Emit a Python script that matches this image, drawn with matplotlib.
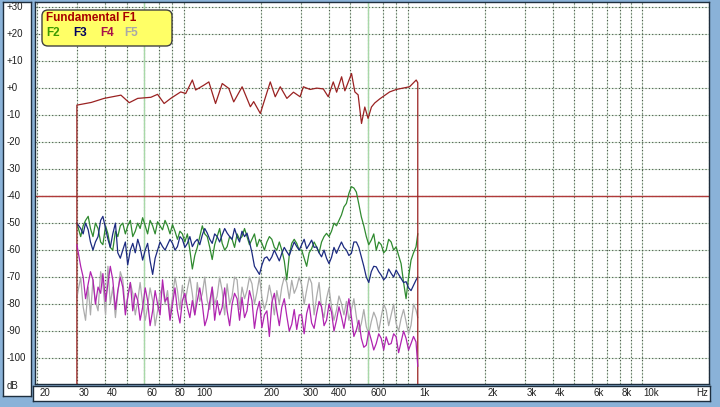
import matplotlib
matplotlib.use('Agg')
import matplotlib.pyplot as plt
import matplotlib.transforms as mtransforms
from matplotlib.patches import FancyBboxPatch
from matplotlib.ticker import NullLocator

plt.rcParams['font.family'] = ['Liberation Sans', 'DejaVu Sans']

# ---------------- data ----------------
f1_freq = [30, 30, 34.8, 39.7, 47.2, 51.4, 56.1, 64.2, 68.8, 73.6, 78.8, 87.3, 91.9, 98.4,
           101.8, 110.8, 116.6, 124.9, 133.8, 143.1, 150.6, 164.2, 178.7, 184.9, 198,
           219.3, 230.8, 243, 260.2, 278.4, 298, 308.3, 330.3, 353.7, 378.4, 398.2,
           419.2, 434, 456.9, 472.4, 506, 523.5, 541.5, 560.6, 579.9, 599.8, 621,
           642.4, 676, 749, 802, 858, 919, 984, 1000, 1000]
f1_db = [-110, -6.3, -5.3, -3.8, -2.6, -5.4, -3.8, -3.4, -2.3, -5.7, -3.8, -1.4, -2.0, 3.0,
         -0.7, 1.1, 2.3, -5.7, 1.7, -0.1, -5.1, 0.5, -6.9, -5.0, -9.4,
         2.3, -3.2, 0.5, -3.8, -1.5, -3.2, 0.5, -0.5, 0.0, -0.3, -3.2,
         2.3, -1.5, 4.2, -1.0, 5.4, -1.4, -2.5, -13.1, -7.0, -11.2, -7.0,
         -5.5, -4.0, -1.4, -0.5, 0.0, 0.5, 3.0, 2.0, -110]

# harmonic readings, main points
h_freq = [30, 32.0, 33.7, 35.4, 37.3, 39.2, 41.3, 43.4, 45.7, 48.1,
          50.6, 53.3, 56.1, 59.0, 62.1, 65.4, 68.8, 72.4, 76.2, 80.2,
          84.4, 88.8, 93.5, 98.4, 103.5, 109.0, 114.7, 120.7, 127.0, 133.7,
          140.7, 148.1, 155.9, 164.0, 172.6, 181.7, 191.2, 201.3, 211.8, 222.9,
          234.6, 246.9, 259.9, 273.5, 287.9, 303.0, 318.9, 335.6, 353.2, 371.7,
          391.2, 411.8, 433.4, 456.1, 480.0, 505.2, 531.7, 559.6, 589.0, 619.9,
          652.4, 686.6, 722.6, 760.5, 800.4, 842.4, 886.6, 933.1, 982.1, 1000]

f2_db = [-50, -51, -47.5, -55, -52, -58, -54, -60, -55, -50,
         -51, -55, -50, -48, -54, -51, -49.5, -52.5, -51, -50.5,
         -56, -54, -54, -67, -59, -51, -55, -63.5, -55, -57.5,
         -58.7, -56, -54, -55, -55, -56, -58.7, -57.5, -57, -56,
         -60, -60, -71, -57.5, -57.5, -60, -66, -59.5, -58.8, -57,
         -53.8, -53, -51, -47, -42.7, -36.5, -38.5, -47.7, -55, -56.3,
         -60, -58, -60, -57, -58.8, -65, -78, -63.7, -58.8, -54]

f3_db = [-50, -54, -52.5, -60, -55, -47.5, -56, -54, -61, -60,
         -65.5, -57.5, -56, -63.7, -57.5, -69, -60, -58.7, -58, -57.5,
         -58.7, -56, -57.5, -58.7, -56, -54.4, -53.7, -57.5, -55, -54.4,
         -53.7, -56, -55, -53, -53.7, -61, -67.5, -65.5, -62.5, -62.5,
         -62, -61.2, -60.6, -59.4, -58.7, -58, -59.5, -56.3, -58.8, -62.5,
         -63, -62.7, -61.2, -57, -60, -61.2, -57, -62.5, -70, -68,
         -66.2, -69.3, -70, -68.6, -67.4, -70.5, -71.7, -75, -71.1, -70]

f4_db = [-58, -70, -72.5, -71, -73.7, -68.7, -72.5, -71, -75, -73.7,
         -77.5, -82.5, -78.7, -81.2, -78.7, -82.5, -80, -71, -77.5, -80,
         -82.5, -78.7, -81.2, -78.7, -78.7, -80, -85, -73.7, -78.7, -81.2,
         -82.5, -80, -78, -77.5, -82.5, -78.7, -82.5, -88.7, -82.5, -79.4,
         -82.5, -81.2, -84.4, -87.5, -89.4, -84, -83.5, -87, -83.5, -81,
         -86, -83, -86, -84.7, -83.5, -84.7, -89.6, -92.7, -95.2, -93.3,
         -94.6, -92.7, -92.1, -94.6, -92.1, -94, -92.7, -94.6, -94, -103]

f5_db = [-77.5, -81, -73.7, -71, -82.5, -72.5, -66, -73.7, -76, -71,
         -77.5, -76, -78.7, -80, -81, -78.7, -82.5, -73.7, -75, -77.5,
         -75, -73, -74.4, -76.2, -72, -76.2, -78.7, -73.7, -77, -75,
         -72.5, -77, -71, -73.7, -75, -72.5, -75.6, -77.5, -78.7, -77.5,
         -75, -73.7, -72, -71.2, -73.7, -73, -74.8, -72.3, -77.3, -81.6,
         -78, -81, -82.2, -79.8, -79, -82.2, -84.7, -87.2, -88.4, -86.5,
         -85.3, -84.7, -82.2, -84, -87.2, -85.3, -86.5, -87.8, -82.2, -85]

# harmonic readings, in-between wiggle points
m_freq = [31.2, 32.8, 34.5, 36.3, 38.3, 40.3, 42.3, 44.6, 46.9, 49.4,
          52.0, 54.7, 57.5, 60.6, 63.7, 67.1, 70.6, 74.3, 78.2, 82.3,
          86.6, 91.1, 95.9, 100.9, 106.2, 111.8, 117.7, 123.8, 130.3, 137.2,
          144.4, 151.9, 159.9, 168.3, 177.1, 186.4, 196.2, 206.5, 217.3, 228.7,
          240.7, 253.3, 266.6, 280.6, 295.3, 310.8, 327.1, 344.3, 362.3, 381.3,
          401.3, 422.4, 444.6, 467.9, 492.4, 518.3, 545.5, 574.1, 604.2, 635.9,
          669.3, 704.4, 741.3, 780.2, 821.2, 864.2, 909.6, 957.3]

f2_mid = [-55, -49, -52, -50, -57, -51, -59, -53, -51, -54,
          -49, -53, -52, -51, -49, -54, -51, -49, -54, -53,
          -53, -57, -60, -62, -55, -54, -59, -58, -52, -60,
          -55, -59, -56, -52, -58, -54, -56, -60, -55, -59,
          -57, -64, -62, -56, -60, -63, -61, -57, -61, -55,
          -55, -50, -49, -44, -39, -37, -43, -51, -58, -54,
          -57, -61, -56, -60, -62, -72, -70, -61]

f3_mid = [-52, -50, -57, -57, -49, -52, -59, -50, -63, -57,
          -60, -61, -59, -60, -64, -63, -57, -60, -56, -60,
          -55, -59, -55, -57, -58, -52, -56, -54, -57, -52,
          -55, -52, -57, -55, -57, -66, -69, -63, -64, -60,
          -64, -59, -62, -57, -60, -56, -58, -59, -61, -60,
          -65, -59, -59, -59, -62, -57, -59, -66, -72, -66,
          -68, -71, -67, -70, -69, -72, -74, -73]

f4_mid = [-66, -78, -68, -80, -76, -79, -66, -82, -70, -84,
          -72, -76, -86, -74, -88, -75, -84, -79, -86, -74,
          -87, -76, -85, -84, -74, -88, -79, -86, -84, -74,
          -88, -76, -86, -85, -75, -89, -79, -84, -92, -76,
          -88, -78, -90, -82, -84, -91, -80, -89, -79, -88,
          -80, -90, -81, -89, -78, -92, -86, -96, -90, -97,
          -91, -97, -95, -91, -98, -90, -97, -92]

f5_mid = [-70, -86, -84, -79, -68, -84, -80, -85, -68, -82,
          -72, -84, -72, -86, -74, -88, -76, -80, -84, -70,
          -82, -80, -70, -84, -79, -70, -82, -80, -70, -84,
          -80, -70, -82, -78, -70, -80, -70, -82, -73, -84,
          -80, -70, -78, -76, -70, -80, -70, -84, -72, -85,
          -74, -86, -77, -84, -86, -78, -90, -82, -91, -83,
          -90, -80, -88, -80, -90, -82, -91, -80]

threshold_db = -40

x_tick_vals = [20, 30, 40, 60, 80, 100, 200, 300, 400, 600, 1000, 2000, 3000, 4000, 6000, 8000, 10000]
x_tick_labels = ['20', '30', '40', '60', '80', '100', '200', '300', '400', '600',
                 '1k', '2k', '3k', '4k', '6k', '8k', '10k']
y_tick_vals = [30, 20, 10, 0, -10, -20, -30, -40, -50, -60, -70, -80, -90, -100]
y_tick_labels = ['+30', '+20', '+10', '+0', '-10', '-20', '-30', '-40', '-50', '-60',
                 '-70', '-80', '-90', '-100']


def merged(fa, va, fb, vb):
    pts = sorted(list(zip(fa, va)) + list(zip(fb, vb)))
    return [p[0] for p in pts], [p[1] for p in pts]


# ---------------- figure ----------------
W, H = 720, 407
fig = plt.figure(figsize=(7.2, 4.07), dpi=100)
fig.patch.set_facecolor('#8ab2d8')


def fx(px):
    return px / W


def fy(py):
    return 1 - py / H


border = '#1e2e3e'

pl = fig.add_axes([fx(3), fy(396), fx(31) - fx(3), fy(2) - fy(396)])
pb = fig.add_axes([fx(33), fy(401), fx(710) - fx(33), fy(386) - fy(401)])
for p in (pl, pb):
    p.set_facecolor('white')
    p.set_xticks([]); p.set_yticks([])
    for s in p.spines.values():
        s.set_color(border); s.set_linewidth(1.0)

ax = fig.add_axes([fx(35), fy(384), fx(709) - fx(35), fy(2) - fy(384)])
ax.set_xscale('log')
ax.set_xlim(19.5, 20000)
ax.set_ylim(-109.6, 31.9)
ax.set_facecolor('white')
ax.xaxis.set_major_locator(NullLocator())
ax.xaxis.set_minor_locator(NullLocator())
ax.set_yticks([])
for s in ax.spines.values():
    s.set_color(border); s.set_linewidth(1.0)

grid_x = [m * d for d in (10, 100, 1000) for m in range(2, 10)] + [10000, 20000]
for g in grid_x:
    ax.axvline(g, color='#d6ead6', lw=0.8, zorder=1)
    ax.axvline(g, color='#4a544a', lw=0.8, ls=(0, (1, 2)), zorder=1.1)
for g in (60, 600):
    ax.axvline(g, color='#a8d8a8', lw=1.0, zorder=1.2)
for v in y_tick_vals:
    ax.axhline(v, color='#d6ead6', lw=0.8, zorder=1)
    ax.axhline(v, color='#4a544a', lw=0.8, ls=(0, (1, 2)), zorder=1.1)

ax.axhline(threshold_db, color='#b03a3a', lw=1.0, zorder=2)

lw = 0.9
fq, v5 = merged(h_freq, f5_db, m_freq, f5_mid)
ax.plot(fq, v5, color='#acacac', lw=lw, zorder=3)
fq, v2 = merged(h_freq, f2_db, m_freq, f2_mid)
ax.plot(fq, v2, color='#2f8a2f', lw=lw, zorder=4)
fq, v3 = merged(h_freq, f3_db, m_freq, f3_mid)
ax.plot(fq, v3, color='#1c2a80', lw=lw, zorder=5)
ax.plot(f1_freq, f1_db, color='#9a2222', lw=lw, zorder=6)
fq, v4 = merged(h_freq, f4_db, m_freq, f4_mid)
ax.plot(fq, v4, color='#b024b0', lw=lw, zorder=7)

tc = '#202020'
xt = mtransforms.blended_transform_factory(ax.transData, fig.transFigure)
off = mtransforms.offset_copy(xt, fig=fig, x=2, y=0, units='dots')
for v, lab in zip(x_tick_vals, x_tick_labels):
    fig.text(v, fy(393.5), lab, transform=off, ha='left', va='center', fontsize=7, color=tc)
fig.text(fx(708), fy(393.5), 'Hz', ha='right', va='center', fontsize=7, color=tc)

yt = mtransforms.blended_transform_factory(fig.transFigure, ax.transData)
for v, lab in zip(y_tick_vals, y_tick_labels):
    fig.text(fx(7), v, lab, transform=yt, ha='left', va='center', fontsize=7, color=tc)
fig.text(fx(7), fy(386), 'dB', ha='left', va='center', fontsize=7, color=tc)

box = FancyBboxPatch((42, H - 46), 130, 36,
                     boxstyle='round,pad=0,rounding_size=6',
                     transform=mtransforms.IdentityTransform(),
                     facecolor='#ffff66', edgecolor='#404040', lw=1.0, zorder=20)
fig.patches.append(box)
fig.text(fx(46), fy(18), 'Fundamental F1', color='#a80000', fontsize=8.5,
         fontweight='bold', ha='left', va='center', zorder=21)
for xp, lab, c in [(46, 'F2', '#3c9a00'), (73, 'F3', '#000060'),
                   (100, 'F4', '#a8104a'), (124, 'F5', '#a8a8a8')]:
    fig.text(fx(xp), fy(33), lab, color=c, fontsize=8.5, fontweight='bold',
             ha='left', va='center', zorder=21)

fig.savefig('out.png', dpi=100, facecolor=fig.get_facecolor())
